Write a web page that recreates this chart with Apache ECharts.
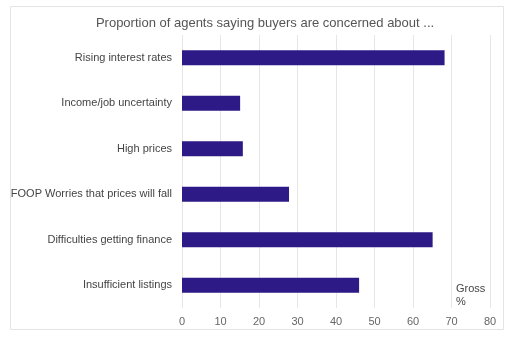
<!DOCTYPE html>
<html><head><meta charset="utf-8">
<script src="https://cdn.jsdelivr.net/npm/echarts@6/dist/echarts.min.js"></script>
<style>html,body{margin:0;padding:0;background:#fff}#c{width:510px;height:340px}</style>
</head><body><div id="c"></div>
<script>
const categories = ["Rising interest rates","Income/job uncertainty","High prices","FOOP Worries that prices will fall","Difficulties getting finance","Insufficient listings"];
const values = [68.2, 15.1, 15.8, 27.8, 65.1, 46.0];
const titleText = "Proportion of agents saying buyers are concerned about ...";
const axisName = "Gross\n%";

const chart = echarts.init(document.getElementById('c'), null, {renderer:'canvas'});
chart.setOption({
  animation:false,
  backgroundColor:'#fff',
  title:{text:titleText,left:260,top:12,textAlign:'center',textStyle:{fontFamily:'Arial, Liberation Sans',fontSize:13,fontWeight:'normal',color:'#555'}},
  graphic:[
    {type:'rect',shape:{x:10.5,y:6.5,width:493,height:323},style:{fill:'none',stroke:'#e4e4e4',lineWidth:1},silent:true,z:-1},
    {type:'text',left:456,top:282,style:{text:axisName,fontFamily:'Arial, Liberation Sans',fontSize:11,lineHeight:13,fill:'#444'}}
  ],
  grid:{left:182,right:20,top:35,bottom:32,containLabel:false},
  xAxis:{type:'value',min:0,max:80,interval:10,
    axisLine:{show:false},axisTick:{show:false},
    splitLine:{show:true,lineStyle:{color:'#e6e6e6',width:1}},
    axisLabel:{color:'#666',fontFamily:'Arial, Liberation Sans',fontSize:11,margin:8}},
  yAxis:{type:'category',data:categories,inverse:true,
    axisLine:{show:false},axisTick:{show:false},
    axisLabel:{color:'#444',fontFamily:'Arial, Liberation Sans',fontSize:11,margin:10}},
  series:[{type:'bar',data:values,barWidth:15,itemStyle:{color:'#2e1a87'}}]
});
</script></body></html>
